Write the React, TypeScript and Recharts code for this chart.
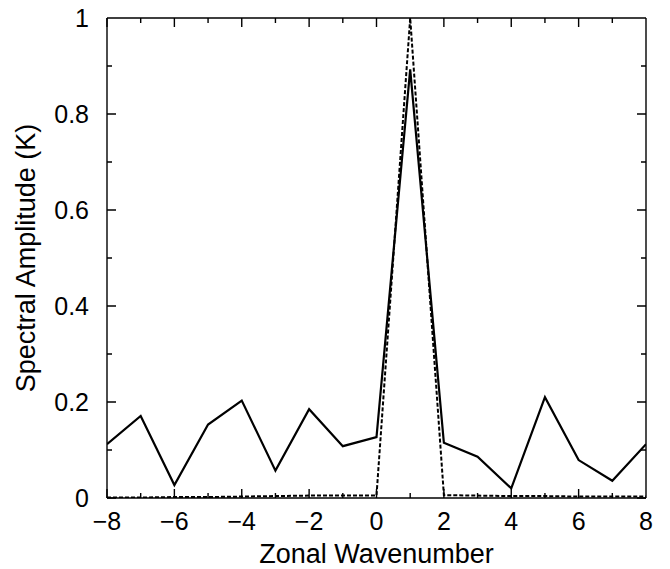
import React from 'react';
import { LineChart, Line, XAxis, YAxis, Label } from 'recharts';

// zonal wavenumber axis
const wavenumbers = [-8, -7, -6, -5, -4, -3, -2, -1, 0, 1, 2, 3, 4, 5, 6, 7, 8];
// spectral amplitude (K), solid curve
const amplitude = [0.112, 0.171, 0.027, 0.153, 0.203, 0.057, 0.185, 0.108, 0.127, 0.893, 0.115, 0.086, 0.02, 0.21, 0.079, 0.036, 0.112];
// spectral amplitude (K), dotted curve
const reference = [0.001, 0.001, 0.002, 0.002, 0.003, 0.004, 0.005, 0.005, 0.005, 1.0, 0.006, 0.005, 0.004, 0.004, 0.003, 0.003, 0.003];

const yTicks = [0, 0.1, 0.2, 0.3, 0.4, 0.5, 0.6, 0.7, 0.8, 0.9, 1];

const data = wavenumbers.map((k, i) => ({ k, amplitude: amplitude[i], reference: reference[i] }));

// chart layout
const WIDTH = 670;
const HEIGHT = 569;
const MARGIN = { top: 18, right: 24, left: 27, bottom: 31 };
const X_AXIS_H = 40;
const Y_AXIS_W = 80;
const PLOT_W = WIDTH - MARGIN.left - MARGIN.right - Y_AXIS_W;
const PLOT_H = HEIGHT - MARGIN.top - MARGIN.bottom - X_AXIS_H;

const FONT = "'Liberation Sans', Arial, Helvetica, sans-serif";
const TICK_FONT = 25;
const TITLE_FONT = 27;
const MAJOR = 9;
const MINOR = 5;
const INK = '#000';

const fmt = (v: number) => String(Math.round(v * 10) / 10).replace('-', '\u2212');
const isMajorX = (v: number) => Math.round(v) % 2 === 0;
const isMajorY = (v: number) => Math.round(v * 10) % 2 === 0;

// inward ticks on the bottom and (mirrored) top edges, label below;
// the last tick also closes the frame on the right
function BottomTick(props: any) {
  const { x, y, payload } = props;
  const v = payload.value;
  const len = isMajorX(v) ? MAJOR : MINOR;
  const top = y - PLOT_H;
  let d = `M${x},${y}V${y - len}M${x},${top}V${top + len}`;
  if (v === wavenumbers[wavenumbers.length - 1]) d += `M${x},${y}V${top}`;
  return (
    <g>
      <path d={d} fill="none" stroke={INK} strokeWidth={1.4} />
      {isMajorX(v) && (
        <text x={x} y={y + 32} textAnchor="middle" fontSize={TICK_FONT} fontFamily={FONT} fill={INK}>
          {fmt(v)}
        </text>
      )}
    </g>
  );
}

// inward ticks on the left and (mirrored) right edges, label at left;
// the top tick also closes the frame along the top
function LeftTick(props: any) {
  const { x, y, payload } = props;
  const v = payload.value;
  const len = isMajorY(v) ? MAJOR : MINOR;
  const right = x + PLOT_W;
  let d = `M${x},${y}H${x + len}M${right},${y}H${right - len}`;
  if (v === yTicks[yTicks.length - 1]) d += `M${x},${y}H${right}`;
  return (
    <g>
      <path d={d} fill="none" stroke={INK} strokeWidth={1.4} />
      {isMajorY(v) && (
        <text x={x - 18} y={y} dy="0.36em" textAnchor="end" fontSize={TICK_FONT} fontFamily={FONT} fill={INK}>
          {fmt(v)}
        </text>
      )}
    </g>
  );
}

const axisLine = { stroke: INK, strokeWidth: 1.4 };

export default function App() {
  return (
    <div style={{ position: 'absolute', left: 0, top: 0, background: '#fff' }}>
      <LineChart width={WIDTH} height={HEIGHT} data={data} margin={MARGIN}>
        <XAxis
          dataKey="k"
          type="number"
          domain={[-8, 8]}
          ticks={wavenumbers}
          interval={0}
          height={X_AXIS_H}
          tickSize={0}
          tickMargin={0}
          tickLine={false}
          axisLine={axisLine}
          tick={<BottomTick />}
          allowDataOverflow
        >
          <Label
            content={(p: any) => {
              const vb = p.viewBox;
              return (
                <text x={vb.x + vb.width / 2} y={vb.y + 65} textAnchor="middle" fontSize={TITLE_FONT} fontFamily={FONT} fill={INK}>
                  Zonal Wavenumber
                </text>
              );
            }}
          />
        </XAxis>
        <YAxis
          type="number"
          domain={[0, 1]}
          ticks={yTicks}
          interval={0}
          width={Y_AXIS_W}
          tickSize={0}
          tickMargin={0}
          tickLine={false}
          axisLine={axisLine}
          tick={<LeftTick />}
          allowDataOverflow
        >
          <Label
            content={(p: any) => {
              const vb = p.viewBox;
              const cx = vb.x - 2;
              const cy = vb.y + vb.height / 2;
              return (
                <text
                  x={cx}
                  y={cy}
                  dy="0.36em"
                  transform={`rotate(-90 ${cx} ${cy})`}
                  textAnchor="middle"
                  fontSize={TITLE_FONT}
                  fontFamily={FONT}
                  fill={INK}
                >
                  Spectral Amplitude (K)
                </text>
              );
            }}
          />
        </YAxis>
        <Line
          type="linear"
          dataKey="reference"
          stroke={INK}
          strokeWidth={2}
          strokeDasharray="4 2"
          dot={false}
          activeDot={false}
          isAnimationActive={false}
        />
        <Line
          type="linear"
          dataKey="amplitude"
          stroke={INK}
          strokeWidth={2.2}
          dot={false}
          activeDot={false}
          isAnimationActive={false}
        />
      </LineChart>
    </div>
  );
}
